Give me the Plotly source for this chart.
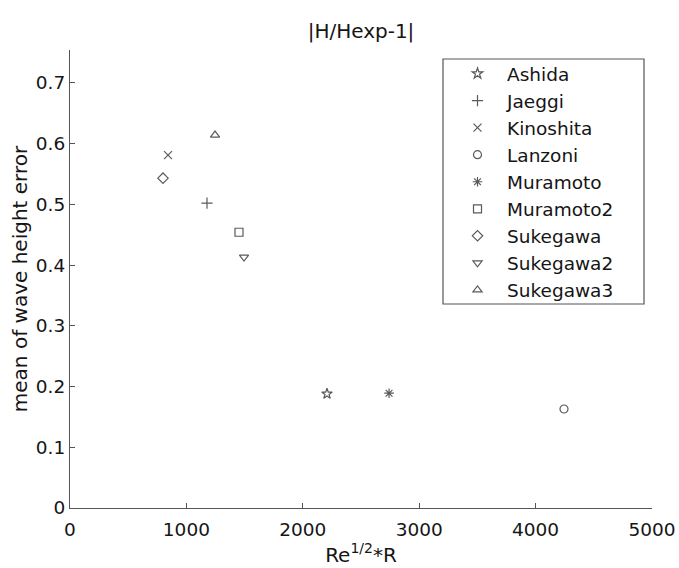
import plotly.graph_objects as go

names = ["Ashida", "Jaeggi", "Kinoshita", "Lanzoni", "Muramoto",
         "Muramoto2", "Sukegawa", "Sukegawa2", "Sukegawa3"]
x_vals = [2208, 1177, 842, 4244, 2741, 1452, 799, 1495, 1246]
y_vals = [0.188, 0.502, 0.581, 0.163, 0.189, 0.454, 0.543, 0.413, 0.614]
symbols = ["star-open", "cross-thin-open", "x-thin-open", "circle-open",
           "asterisk-open", "square-open", "diamond-open",
           "triangle-down-open", "triangle-up-open"]
x_ticks = [0, 1000, 2000, 3000, 4000, 5000]
y_ticks = [0, 0.1, 0.2, 0.3, 0.4, 0.5, 0.6, 0.7]
y_tick_text = ["0", "0.1", "0.2", "0.3", "0.4", "0.5", "0.6", "0.7"]

FONT = "DejaVu Sans, Liberation Sans, sans-serif"
MCOL = "#5a5a5a"
ACOL = "#555555"

fig = go.Figure()
for n, xv, yv, s in zip(names, x_vals, y_vals, symbols):
    fig.add_trace(go.Scatter(
        x=[xv], y=[yv], mode="markers", name=n, legendgroup=n,
        marker=dict(symbol=s, size=8, color=MCOL, line=dict(color=MCOL, width=1.2)),
    ))

# body margin is removed by the post script, so page pixels == figure pixels
W, H = 679, 568
PL, PR, PT, PB = 70, 652, 50, 508          # plot area in page pixels

def px(xp):
    return (xp - PL) / (PR - PL)

def py(yp):
    return (PB - yp) / (PB - PT)

fig.update_layout(
    width=W, height=H,
    margin=dict(l=PL, r=W - PR, t=PT, b=H - PB, autoexpand=False),
    paper_bgcolor="white", plot_bgcolor="white",
    font=dict(family=FONT, size=18.5, color="#151515"),
    title=dict(text="|H/Hexp-1|", x=(PL + PR) / 2 / W, xanchor="center",
               xref="container", yref="container",
               y=1 - 31 / H, yanchor="middle", font=dict(size=20)),
    showlegend=True,
    legend=dict(x=px(448), y=py(55), xanchor="left", yanchor="top",
                bgcolor="rgba(0,0,0,0)", borderwidth=0,
                traceorder="grouped", tracegroupgap=0, itemwidth=49,
                font=dict(size=18.5)),
    shapes=[dict(type="rect", xref="paper", yref="paper",
                 x0=px(443), x1=px(644), y0=py(304), y1=py(59),
                 line=dict(color=ACOL, width=1.2), fillcolor="rgba(0,0,0,0)")],
    xaxis=dict(range=[0, 5000], tickvals=x_ticks, ticktext=[str(v) for v in x_ticks],
               ticks="inside", ticklen=5, tickcolor=ACOL, ticklabelstandoff=5,
               ticklabeloverflow="allow",
               showline=True, linecolor=ACOL, linewidth=1.2, automargin=False,
               showgrid=False, zeroline=False, mirror=False,
               title=dict(text="Re<sup>1/2</sup>*R", standoff=1, font=dict(size=20))),
    yaxis=dict(range=[0, 0.754], tickvals=y_ticks, ticktext=y_tick_text,
               ticks="inside", ticklen=5, tickcolor=ACOL, automargin=False,
               showline=True, linecolor=ACOL, linewidth=1.2,
               showgrid=False, zeroline=False, mirror=False,
               title=dict(text="mean of wave height error", standoff=2, font=dict(size=20))),
)

fig.write_html("out.html", config={"displayModeBar": False},
               post_script="document.body.style.margin='0';document.body.style.overflow='hidden';")
